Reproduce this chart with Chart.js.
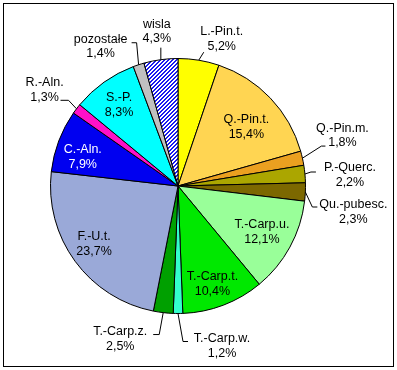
<!DOCTYPE html>
<html>
<head>
<meta charset="utf-8">
<script src="https://cdn.jsdelivr.net/npm/chart.js@4"></script>
<style>
html,body{margin:0;padding:0;background:#fff;}
canvas{display:block;}
</style>
</head>
<body>
<canvas id="c" width="397" height="370"></canvas>
<script>
// ---- data ----
const categories = ['L.-Pin.t.','Q.-Pin.t.','Q.-Pin.m.','P.-Querc.','Qu.-pubesc.','T.-Carp.u.','T.-Carp.t.','T.-Carp.w.','T.-Carp.z.','F.-U.t.','C.-Aln.','R.-Aln.','S.-P.','pozostałe','wisla'];
const shares = [5.2,15.4,1.8,2.2,2.3,12.1,10.4,1.2,2.5,23.7,7.9,1.3,8.3,1.4,4.3];

// ---- styles ----
const sliceColors = ['#FFFF00','#FFD552','#EBA020','#ABA600','#7C6800','#99FF99','#00E800','#33FFCC','#00A000','#9AA9D8','#0000F0','#FF10C8','#00FFFF','#C0C0C0','HATCH'];
const textColors = categories.map(c => c === 'C.-Aln.' ? '#FFFFFF' : '#000000');

// label placement (offsets relative to the slice's outer mid-point; leader elbow relative to label centre)
const labelPlacement = {
  'L.-Pin.t.':   {dx:23,  dy:-21,  lead:{ex:-18, ey:13,   tick:0}},
  'Q.-Pin.t.':   {dx:-24, dy:29},
  'Q.-Pin.m.':   {dx:40,  dy:-22.6,lead:{ex:-21, ey:10.5, tick:4}},
  'P.-Querc.':   {dx:45,  dy:1,    lead:{ex:-39, ey:-3,   tick:5}},
  'Qu.-pubesc.': {dx:48,  dy:20,   lead:{ex:-41, ey:-5,   tick:5}},
  'T.-Carp.u.':  {dx:-28, dy:-15},
  'T.-Carp.t.':  {dx:-11, dy:-21},
  'T.-Carp.w.':  {dx:44,  dy:32.5, lead:{ex:-39, ey:-4.5, tick:5}},
  'T.-Carp.z.':  {dx:-43, dy:26.4, lead:{ex:39,  ey:-4.5, tick:-6}},
  'F.-U.t.':     {dx:19,  dy:-17},
  'C.-Aln.':     {dx:24,  dy:16},
  'R.-Aln.':     {dx:-32, dy:-19,  lead:{ex:24,  ey:10.5, tick:-8}},
  'S.-P.':       {dx:15,  dy:23},
  'pozostałe':   {dx:-38, dy:-18,  lead:{ex:36,  ey:-4,   tick:-5}},
  'wisla':       {dx:-4,  dy:-28,  lead:{ex:4,   ey:16,   tick:0}}
};

function makeHatch(){
  const t = document.createElement('canvas');
  t.width = 4; t.height = 4;
  const g = t.getContext('2d');
  g.fillStyle = '#FFFFFF'; g.fillRect(0,0,4,4);
  g.fillStyle = '#1A1AF0';
  for (let i=0;i<4;i++) { g.fillRect(i,3-i,1,1); g.fillRect((i+1)%4,3-i,1,1); }
  return document.getElementById('c').getContext('2d').createPattern(t,'repeat');
}
const hatch = makeHatch();
const bg = sliceColors.map(c => c === 'HATCH' ? hatch : c);

const framePlugin = {
  id:'frame',
  beforeDraw(chart){
    const ctx = chart.ctx;
    ctx.save();
    ctx.fillStyle = '#fff';
    ctx.fillRect(0,0,chart.width,chart.height);
    ctx.strokeStyle = '#000';
    ctx.lineWidth = 1;
    ctx.strokeRect(3.5,3.5,390,363);
    ctx.restore();
  }
};

const labelPlugin = {
  id:'pieLabels',
  afterDatasetsDraw(chart){
    const ctx = chart.ctx;
    const meta = chart.getDatasetMeta(0);
    const vals = chart.data.datasets[0].data;
    ctx.save();
    ctx.font = '12.5px "Liberation Sans", Arial, sans-serif';
    ctx.textAlign = 'center';
    ctx.textBaseline = 'middle';
    const lh = 14.5;
    meta.data.forEach((arc, i) => {
      const name = chart.data.labels[i];
      const p = labelPlacement[name];
      const mid = (arc.startAngle + arc.endAngle) / 2;
      const R = arc.outerRadius;
      const ax = arc.x + R * Math.cos(mid);
      const ay = arc.y + R * Math.sin(mid);
      const cx = ax + p.dx, cy = ay + p.dy;
      if (p.lead) {
        const exx = cx + p.lead.ex, eyy = cy + p.lead.ey;
        ctx.strokeStyle = '#000';
        ctx.lineWidth = 1;
        ctx.beginPath();
        ctx.moveTo(ax, ay);
        ctx.lineTo(exx, eyy);
        if (p.lead.tick) ctx.lineTo(exx + p.lead.tick, eyy);
        ctx.stroke();
      }
      const txt = vals[i].toFixed(1).replace('.', ',') + '%';
      ctx.fillStyle = textColors[i];
      ctx.fillText(name, cx, cy - lh/2);
      ctx.fillText(txt, cx, cy + lh/2);
    });
    ctx.restore();
  }
};

new Chart(document.getElementById('c'), {
  type:'pie',
  data:{
    labels: categories,
    datasets:[{
      data: shares,
      backgroundColor: bg,
      borderColor:'#000',
      borderWidth:1
    }]
  },
  options:{
    responsive:false,
    animation:false,
    layout:{padding:{left:50,right:91,top:58,bottom:56}},
    plugins:{legend:{display:false},tooltip:{enabled:false}}
  },
  plugins:[framePlugin,labelPlugin]
});
</script>
</body>
</html>
